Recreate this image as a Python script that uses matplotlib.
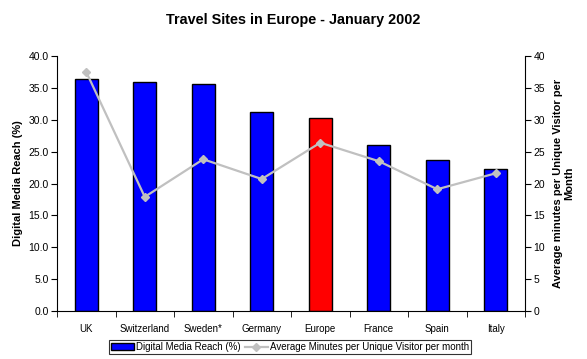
import matplotlib
matplotlib.use("Agg")
import matplotlib.pyplot as plt
import numpy as np
from matplotlib.ticker import FormatStrFormatter, FixedLocator

plt.rcParams["font.family"] = ["Liberation Sans", "DejaVu Sans"]

# 데이터
countries = ["UK", "Switzerland", "Sweden*", "Germany", "Europe", "France", "Spain", "Italy"]
reach = [36.4, 35.9, 35.6, 31.2, 30.3, 26.0, 23.7, 22.3]
minutes = [37.5, 17.9, 23.8, 20.7, 26.4, 23.5, 19.1, 21.6]
bar_colors = ["#0000FF", "#0000FF", "#0000FF", "#0000FF", "#FF0000", "#0000FF", "#0000FF", "#0000FF"]

fig = plt.figure(figsize=(5.87, 3.59), dpi=100)
ax = fig.add_axes([57 / 587, 1 - 311 / 359, 468 / 587, 255 / 359])
x = np.arange(len(countries))

bars = ax.bar(x, reach, width=0.4, color=bar_colors, edgecolor="black", linewidth=1.0, zorder=2,
              label="Digital Media Reach (%)")
ax.set_xlim(-0.5, len(countries) - 0.5)
ax.set_ylim(0, 40)
ax.set_yticks(np.arange(0, 40.1, 5))
ax.yaxis.set_major_formatter(FormatStrFormatter("%.1f"))
ax.set_xticks(x)
ax.set_xticklabels(countries)
ax.xaxis.set_minor_locator(FixedLocator(np.arange(-0.5, len(countries), 1.0)))
ax.tick_params(axis="x", which="major", length=0, pad=9, labelsize=7)
ax.tick_params(axis="x", which="minor", length=4, direction="out")
ax.tick_params(axis="y", length=4, direction="out", labelsize=7.5, pad=2)
ax.spines[["top", "right"]].set_visible(False)
ax.set_ylabel("Digital Media Reach (%)", fontsize=8, fontweight="bold", labelpad=4)

ax2 = ax.twinx()
line, = ax2.plot(x, minutes, color="#C0C0C0", lw=1.6, marker="D", markersize=4,
                 markerfacecolor="#C0C0C0", markeredgecolor="#C0C0C0", zorder=3,
                 label="Average Minutes per Unique Visitor per month")
ax2.set_ylim(0, 40)
ax2.set_yticks(np.arange(0, 41, 5))
ax2.tick_params(axis="y", length=4, direction="out", labelsize=7.5, pad=2)
ax2.spines[["top", "left", "bottom"]].set_visible(False)
ax2.set_ylabel("Average minutes per Unique Visitor per\nMonth", fontsize=8, fontweight="bold",
               labelpad=6, linespacing=1.1)

fig.suptitle("Travel Sites in Europe - January 2002", fontsize=10.4, fontweight="bold", y=0.965)

leg = fig.legend([bars, line], ["Digital Media Reach (%)", "Average Minutes per Unique Visitor per month"],
                 loc="center", bbox_to_anchor=(290 / 587, 1 - 347 / 359), ncol=2, fontsize=7,
                 frameon=True, fancybox=False, edgecolor="black", handlelength=2.4, handleheight=0.6,
                 columnspacing=0.4, handletextpad=0.2, borderpad=0.2, borderaxespad=0)
leg.get_frame().set_linewidth(0.8)

fig.savefig("out.png", dpi=100)
